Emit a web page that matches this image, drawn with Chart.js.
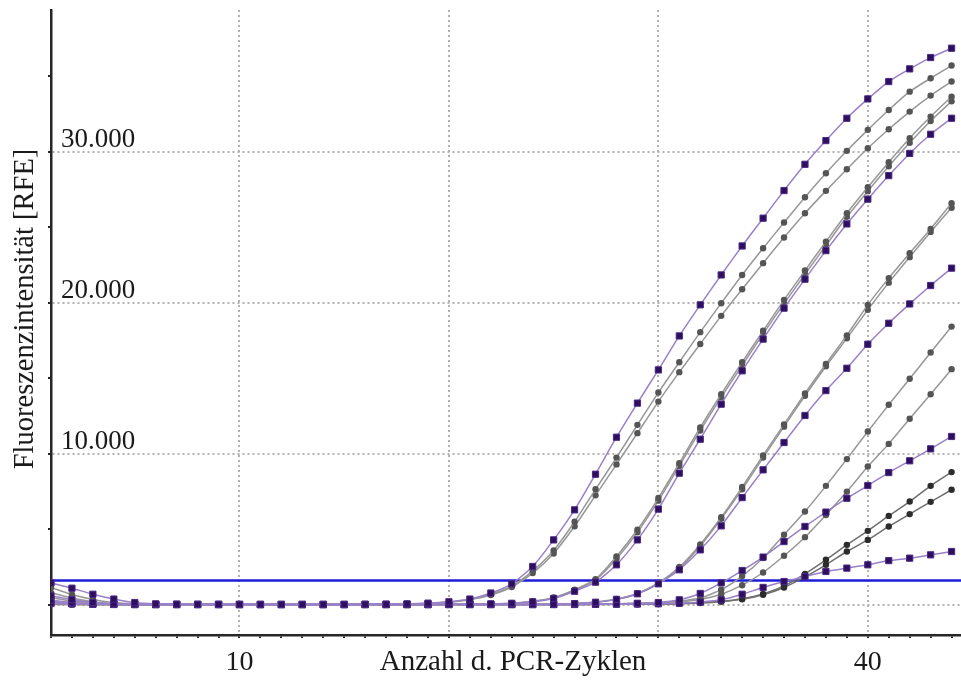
<!DOCTYPE html>
<html>
<head>
<meta charset="utf-8">
<script src="https://cdn.jsdelivr.net/npm/chart.js@4.4.1/dist/chart.umd.min.js"></script>
<style>
  html, body { margin: 0; padding: 0; background: #fff; }
  #wrap { width: 961px; height: 684px; }
</style>
</head>
<body>
<div id="wrap"><canvas id="myChart" width="961" height="684"></canvas></div>
<script>
// --- data ---
var cycles = [1,2,3,4,5,6,7,8,9,10,11,12,13,14,15,16,17,18,19,20,21,22,23,24,25,26,27,28,29,30,31,32,33,34,35,36,37,38,39,40,41,42,43,44];

// purple curves (square markers)
var purpleA = [1450,1100,700,380,150, 60,40,30,30,20,20,20,20,20,20,30,40,60,110,
  200,380,780,1390,2540,4300,6290,8650,11100,13360,15560,17810,19870,21850,23770,25610,27440,29180,30750,32230,33510,34660,35500,36250,36870];
var purpleB = [600,350,150,60,30, 20,20,20,20,20,20,20,20,20,20,20,20,20,20,
  30,40,60,100,200,420,900,1500,2650,4300,6340,8720,10970,13290,15500,17600,19650,21570,23460,25230,26870,28430,29900,31170,32230];
var purpleC = [300,150,60,30,20, 20,20,20,20,20,20,20,20,20,20,20,20,20,20,
  20,20,20,20,20,40,80,170,360,730,1390,2320,3640,5230,7100,8940,10750,12540,14190,15670,17260,18650,19930,21150,22300];
var purpleD = [120,80,40,30,20, 20,20,20,20,20,20,20,20,20,20,20,20,20,20,
  20,20,20,20,20,20,30,40,60,100,150,330,750,1450,2270,3160,4190,5190,6140,7060,7900,8760,9540,10330,11150];
var purpleE = [100,60,40,20,20, 20,20,20,20,20,20,20,20,20,20,20,20,20,20,
  20,20,20,20,20,20,20,30,40,50,70,100,180,330,700,1150,1540,1870,2210,2430,2650,2930,3090,3310,3530];

// gray curves (round markers)
var grayA1 = [1150,680,350,150,60, 30,20,20,20,20,20,20,20,20,20,30,40,60,100,
  180,360,700,1250,2250,3600,5500,7650,9750,11920,14060,16070,18060,19980,21850,23620,25320,27000,28590,30070,31460,32780,33990,34880,35720];
var grayA2 = [150,100,60,40,30, 20,20,20,20,20,20,20,20,20,20,30,40,50,90,
  170,340,650,1180,2100,3400,5200,7250,9300,11370,13460,15410,17280,19140,20900,22630,24330,25940,27420,28850,30240,31500,32670,33730,34660];
var grayB1 = [800,450,200,80,40, 20,20,20,20,20,20,20,20,20,20,20,20,20,20,
  30,40,60,110,230,480,1000,1700,3200,4970,7070,9380,11750,13950,16070,18150,20200,22140,24060,25940,27660,29320,30900,32340,33660];
var grayB2 = [200,120,60,30,20, 20,20,20,20,20,20,20,20,20,20,20,20,20,20,
  30,40,60,100,220,460,950,1650,3050,4800,6900,9200,11550,13750,15850,17950,19950,21900,23800,25700,27400,29050,30600,32050,33350];
var grayC1 = [480,250,120,60,30, 20,20,20,20,20,20,20,20,20,20,20,20,20,20,
  20,20,20,20,30,50,90,180,380,760,1450,2500,4000,5800,7800,9900,11950,14000,15950,17850,19870,21640,23290,24900,26600];
var grayC2 = [100,60,40,30,20, 20,20,20,20,20,20,20,20,20,20,20,20,20,20,
  20,20,20,20,30,50,80,170,360,730,1400,2400,3900,5700,7650,9750,11800,13850,15800,17650,19540,21340,23030,24700,26300];
var grayD1 = [250,150,80,40,20, 20,20,20,20,20,20,20,20,20,20,20,20,20,20,
  20,20,20,20,20,20,30,40,60,100,150,250,450,1000,1900,3100,4640,6180,7880,9650,11480,13250,14970,16710,18430];
var grayD2 = [60,40,30,20,20, 20,20,20,20,20,20,20,20,20,20,20,20,20,20,
  20,20,20,20,20,20,30,40,50,80,120,200,350,700,1300,2140,3250,4480,5950,7500,9160,10660,12320,13950,15610];
var grayE1 = [40,30,20,20,20, 20,20,20,20,20,20,20,20,20,20,20,20,20,20,
  20,20,20,20,20,20,20,30,30,40,50,80,130,230,400,720,1250,2050,2980,3970,4900,5890,6840,7880,8790];
var grayE2 = [30,20,20,20,20, 20,20,20,20,20,20,20,20,20,20,20,20,20,20,
  20,20,20,20,20,20,20,20,30,40,50,70,120,210,360,660,1150,1850,2650,3530,4300,5190,6010,6820,7620];

// threshold line
var thresholdX = [1, 44.45];
var thresholdY = [1610, 1610];

// ticks
var yAxisTicks = [0, 5000, 10000, 15000, 20000, 25000, 30000, 35000];
var yTickValues = [10000, 20000, 30000];
var yTickLabels = ['10.000', '20.000', '30.000'];
var xTickValues = [10, 40];
var xTickLabels = ['10', '40'];

var xTitle = 'Anzahl d. PCR-Zyklen';
var yTitle = 'Fluoreszenzintensität [RFE]';

// --- helpers ---
function toPoints(xs, ys) {
  return xs.map(function (x, i) { return { x: x, y: ys[i] }; });
}

function purpleSet(values) {
  return {
    data: toPoints(cycles, values),
    borderColor: '#9a80c9',
    borderWidth: 1.5,
    pointStyle: 'rect',
    pointRadius: 4.4,
    pointBackgroundColor: '#2e0e5e',
    pointBorderColor: '#4a2a86',
    pointBorderWidth: 1,
    tension: 0.2
  };
}

function graySet(values, dark) {
  return {
    data: toPoints(cycles, values),
    borderColor: dark ? '#6e6e6e' : '#979797',
    borderWidth: 1.5,
    pointStyle: 'circle',
    pointRadius: 3.2,
    pointBackgroundColor: dark ? '#2c2c2c' : '#555555',
    pointBorderColor: dark ? '#2c2c2c' : '#555555',
    pointBorderWidth: 0,
    tension: 0.2
  };
}

var datasets = [
  purpleSet(purpleA), purpleSet(purpleB), purpleSet(purpleC), purpleSet(purpleD), purpleSet(purpleE),
  graySet(grayA1), graySet(grayA2), graySet(grayB1), graySet(grayB2),
  graySet(grayC1), graySet(grayC2), graySet(grayD1), graySet(grayD2),
  graySet(grayE1, true), graySet(grayE2, true),
  {
    data: toPoints(thresholdX, thresholdY),
    borderColor: '#1d1dd8',
    borderWidth: 2.5,
    pointRadius: 0,
    tension: 0
  }
];

// axis titles drawn at their place in the picture
var titlePlugin = {
  id: 'axisTitles',
  afterDraw: function (chart) {
    var ctx = chart.ctx;
    ctx.save();
    ctx.fillStyle = '#1a1a1a';
    ctx.font = '29px "Liberation Serif", "Times New Roman", serif';
    ctx.textAlign = 'center';
    ctx.textBaseline = 'alphabetic';
    ctx.fillText(xTitle, 513, 670);
    ctx.font = '28.5px "Liberation Serif", "Times New Roman", serif';
    ctx.translate(33, 309);
    ctx.rotate(-Math.PI / 2);
    ctx.fillText(yTitle, 0, 0);
    ctx.restore();
  }
};

// fixed box sizes so the plot area sits where it does in the picture
function noPad(s) {
  s.paddingLeft = 0; s.paddingRight = 0; s.paddingTop = 0; s.paddingBottom = 0;
}

var gridGray = '#b2b2b2';
var axisDark = '#262626';

var ctx = document.getElementById('myChart').getContext('2d');
var chart = new Chart(ctx, {
  type: 'line',
  data: { datasets: datasets },
  plugins: [titlePlugin],
  options: {
    responsive: false,
    animation: false,
    layout: { autoPadding: false, padding: { top: 10, right: 0, bottom: 0, left: 0 } },
    plugins: { legend: { display: false }, tooltip: { enabled: false } },
    scales: {
      x: {
        type: 'linear',
        min: 1,
        max: 44.45,
        afterFit: function (s) { s.height = 49; noPad(s); },
        afterBuildTicks: function (s) { s.ticks = cycles.map(function (c) { return { value: c }; }); },
        border: { display: true, color: axisDark, width: 2.5, dash: [2, 3] },
        grid: {
          lineWidth: 2,
          color: function (c) { return c.tick && c.tick.value % 10 === 0 ? gridGray : 'rgba(0,0,0,0)'; },
          tickColor: axisDark,
          tickLength: 3,
          tickWidth: 2
        },
        ticks: {
          autoSkip: false,
          maxRotation: 0,
          padding: 8,
          color: '#1a1a1a',
          font: { family: '"Liberation Serif", "Times New Roman", serif', size: 28 },
          callback: function (v) {
            var i = xTickValues.indexOf(v);
            return i >= 0 ? xTickLabels[i] : '';
          }
        }
      },
      y: {
        min: -2000,
        max: 39400,
        afterFit: function (s) { s.width = 51; noPad(s); },
        afterBuildTicks: function (s) { s.ticks = yAxisTicks.map(function (v) { return { value: v }; }); },
        border: { display: true, color: axisDark, width: 2.5, dash: [2, 3] },
        grid: {
          lineWidth: 2,
          color: function (c) { return c.tick && c.tick.value % 10000 === 0 ? gridGray : 'rgba(0,0,0,0)'; },
          tickColor: axisDark,
          tickLength: 3,
          tickWidth: 2
        },
        ticks: {
          autoSkip: false,
          mirror: true,
          padding: 10,
          labelOffset: -12,
          color: '#1a1a1a',
          font: { family: '"Liberation Serif", "Times New Roman", serif', size: 27 },
          callback: function (v) {
            var i = yTickValues.indexOf(v);
            return i >= 0 ? yTickLabels[i] : '';
          }
        }
      }
    }
  }
});
</script>
</body>
</html>
